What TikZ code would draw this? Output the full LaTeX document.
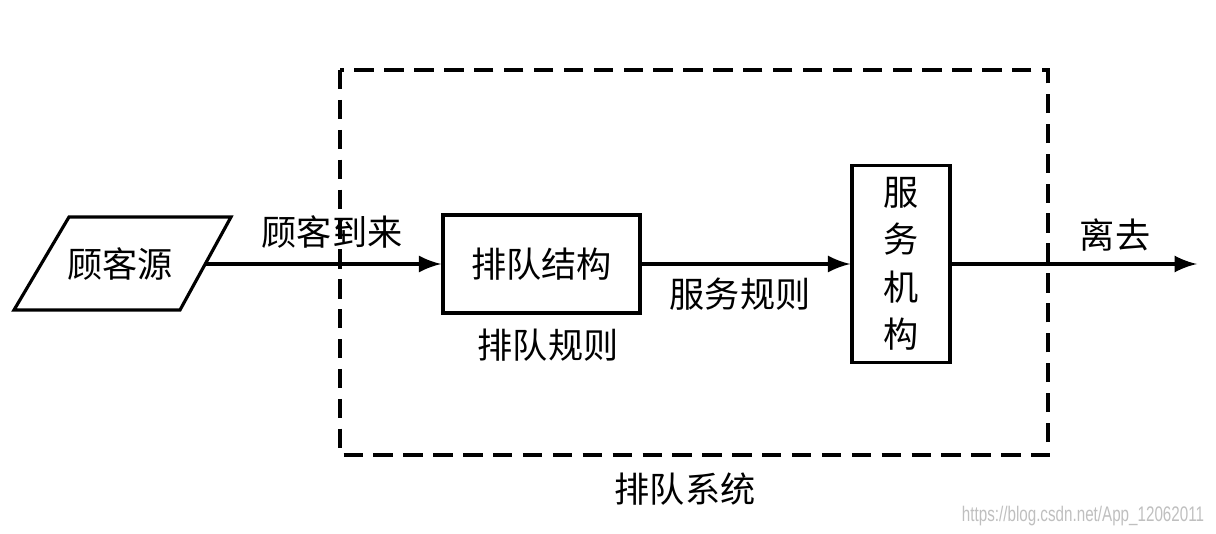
\documentclass[tikz,border=0pt]{standalone}
\usepackage{fontspec}
\usepackage{graphicx}
\setmainfont{Noto Sans CJK SC}
\newfontfamily\wmfont{Liberation Sans}
\usepackage{tikz}
\usetikzlibrary{arrows}
\tikzstyle{box} = [draw, line width=0.9pt, inner sep=0pt]
\tikzstyle{flow} = [line width=1.2pt, ->, >=latex]
\tikzstyle{border} = [line width=0.9pt, dash pattern=on 5.5pt off 3pt]
\tikzstyle{lbl} = [inner sep=0pt]

\begin{document}
\begin{tikzpicture}[x=0.01cm,y=-0.01cm,every node/.style={font=\normalsize}]
    \useasboundingbox (0,0) rectangle (1216,534);
    \draw[border] (340,70) rectangle (1048,455);
    % customer source (parallelogram)
    \draw[line width=0.9pt, line join=miter] (69,217) -- (231,217) -- (180,310) -- (14,310) -- cycle;
    \node[lbl] (src) at (120,264) {顾客源};
    \coordinate (srcout) at (205,264);
    \node[box, minimum width=1.97cm, minimum height=0.98cm] (queue) at (541.5,264) {排队结构};
    \node[box, minimum width=0.98cm, minimum height=1.97cm, align=center,
          font=\fontsize{10}{13.5}\selectfont] (server) at (901,264) {服\\务\\机\\构};
    \coordinate (exit) at (1197,264);
    \draw[flow] (srcout) -- (queue.west);
    \draw[flow] (queue.east) -- (server.west);
    \draw[flow] (server.east) -- (exit);
    \node[lbl] (arrive) at (332,232) {顾客到来};
    \node[lbl] (qrule) at (548,345) {排队规则};
    \node[lbl] (srule) at (740,294) {服务规则};
    \node[lbl] (leave) at (1115,235) {离去};
    \node[lbl] (system) at (685,489) {排队系统};
    \node[lbl, text=black!25, font=\wmfont\fontsize{6}{7}\selectfont] (mark) at (1083,516)
        {\scalebox{0.72}[1]{https://blog.csdn.net/App\_12062011}};
\end{tikzpicture}
\end{document}
